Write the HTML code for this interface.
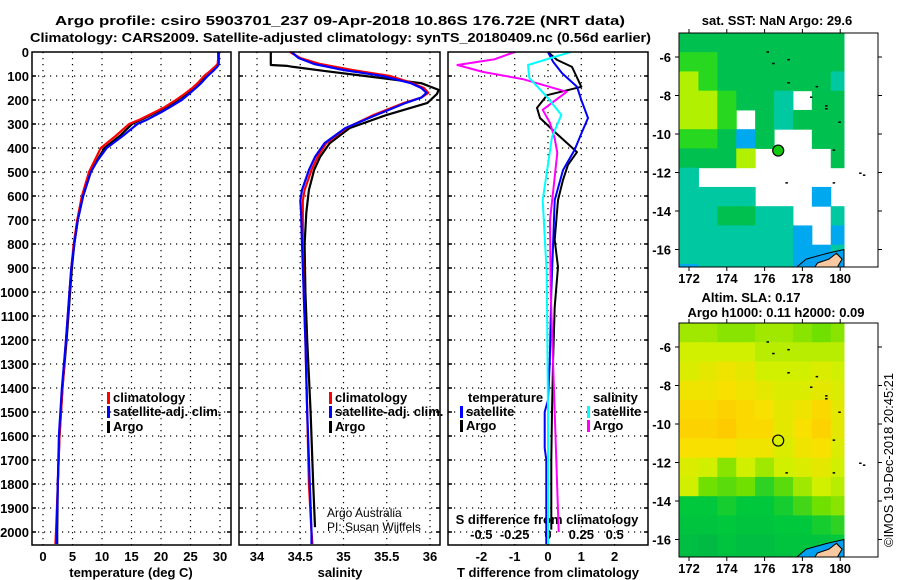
<!DOCTYPE html>
<html><head><meta charset="utf-8">
<style>
html,body{margin:0;padding:0;background:#fff;}
svg{display:block;font-family:"Liberation Sans",Arial,sans-serif;}
.b{font-weight:bold;font-size:13px;}
</style></head>
<body>
<svg id="fig" width="900" height="580" viewBox="0 0 900 580" xmlns="http://www.w3.org/2000/svg">
<rect x="0" y="0" width="900" height="580" fill="#fff"/>
<text x="55" y="25" class="b" font-size="14" textLength="570" lengthAdjust="spacingAndGlyphs">Argo profile: csiro 5903701_237 09-Apr-2018 10.86S 176.72E (NRT data)</text>
<text x="30" y="42" class="b" font-size="14" textLength="621" lengthAdjust="spacingAndGlyphs">Climatology: CARS2009. Satellite-adjusted climatology: synTS_20180409.nc (0.56d earlier)</text>
<text x="131" y="577" class="b" text-anchor="middle">temperature (deg C)</text>
<text x="340" y="577" class="b" text-anchor="middle">salinity</text>
<text x="548" y="577" class="b" text-anchor="middle">T difference from climatology</text>
<text x="547" y="524" class="b" text-anchor="middle">S difference from climatology</text>
<text x="327" y="517" font-size="12">Argo Australia</text>
<text x="327" y="531" font-size="12">PI: Susan Wijffels</text>
<text x="777" y="25" class="b" text-anchor="middle">sat. SST: NaN Argo: 29.6</text>
<text x="751" y="302" class="b" text-anchor="middle">Altim. SLA: 0.17</text>
<text x="776" y="317" class="b" text-anchor="middle">Argo h1000: 0.11 h2000: 0.09</text>
<text x="0" y="0" font-size="13" text-anchor="middle" transform="translate(893,460) rotate(-90)" textLength="174" lengthAdjust="spacingAndGlyphs">©IMOS 19-Dec-2018 20:45:21</text>
</svg>
<script>
// ---------- data ----------
const tDepth = [0,50,60,80,100,130,150,180,200,230,250,280,300,350,400,450,500,600,700,800,900,1000,1200,1400,1600,1800,2000,2050];
const argoT = [29.7,29.7,29.5,28.6,27.8,26.5,25.6,24,22.8,20.8,19.3,16.8,15.1,13,10.4,9.2,8.1,6.8,5.9,5.3,4.9,4.6,4.0,3.3,2.8,2.5,2.4,2.4];
const climT = [29.8,29.6,29.2,28.3,27.3,26.2,25.3,23.7,22.5,20.6,19,16.5,14.6,12.3,9.8,8.8,7.8,6.6,5.8,5.2,4.8,4.5,3.9,3.3,2.8,2.5,2.2,2.1];
const satT = [29.8,29.8,29.6,28.8,27.9,26.8,25.9,24.5,23.5,21.5,20.1,17.8,16,13.5,10.8,9.3,8.1,6.8,5.9,5.3,4.8,4.5,3.9,3.2,2.7,2.5,2.3,2.3];

const argoSDepth = [0,54,58,62,80,100,130,158,175,212,262,317,380,437,492,575,670,800,1000,1200,1500,1800,1980];
const argoS = [34.16,34.16,34.35,34.42,34.8,35.25,35.9,36.1,36.08,35.97,35.5,35.07,34.84,34.73,34.66,34.6,34.57,34.55,34.56,34.58,34.62,34.65,34.67];
const climSDepth = [0,25,50,75,100,130,150,170,190,212,262,317,380,437,492,575,620,670,800,1000,1200,1500,1800,2000,2050];
const climS = [34.38,34.5,34.73,35.1,35.54,35.8,35.93,35.98,35.9,35.7,35.35,35.03,34.8,34.7,34.63,34.55,34.53,34.53,34.53,34.54,34.56,34.58,34.6,34.63,34.64];
const satS = [34.4,34.48,34.66,35.0,35.45,35.78,35.9,35.96,35.9,35.72,35.38,35.02,34.78,34.67,34.6,34.52,34.5,34.51,34.52,34.54,34.56,34.58,34.61,34.63,34.63];

const argoTdDepth = [0,33,62,100,145,180,233,275,333,417,470,533,617,783,896,1062,1300,1500,1700,1990];
const argoTd = [0,0.27,0.72,0.85,1.0,-0.03,-0.33,-0.24,0.2,0.87,0.6,0.45,0.3,0.2,0.3,0.2,0.15,0.12,0.1,0.1];
const satTdDepth = [0,40,88,145,200,275,340,408,492,617,812,1000,1300,1450,1500,1650,1700,2050];
const satTd = [0,0.15,0.42,0.87,1.0,1.2,1.0,0.8,0.45,0.2,0.15,0.1,0.05,0.0,-0.1,-0.1,-0.05,-0.05];
const argoSdDepth = [0,30,54,83,113,166,241,296,360,420,575,700,1000,1500,2000];
const argoSd = [-0.25,-0.4,-0.68,-0.49,-0.19,0.14,-0.04,0.015,0.05,0.07,0.04,0.015,0.02,0.05,0.08];
const satSdDepth = [0,54,108,192,262,354,617,921,1500,2050];
const satSd = [0.17,-0.15,-0.14,0,0.1,0.03,-0.04,-0.01,0,0];

const depthTicks = [0,100,200,300,400,500,600,700,800,900,1000,1100,1200,1300,1400,1500,1600,1700,1800,1900,2000];
const tempTicks = [0,5,10,15,20,25,30];
const salTicks = [34,34.5,35,35.5,36];
const tdTicks = [-2,-1,0,1,2];
const sdTicks = [-0.5,-0.25,0,0.25,0.5];
const sdTickLabels = ['-0.5','-0.25','0','0.25','0.5'];

// SST map categories: 0 missing, 1 blue, 2 teal, 3 green, 4 bright green, 5 yellow-green
const sstGrid = [
 [3,3,3,3,3,3,3,3,3],
 [4,4,3,3,3,3,3,3,3],
 [5,4,3,3,3,3,3,3,2],
 [5,5,4,3,3,2,0,3,3],
 [5,5,4,0,3,2,3,3,3],
 [4,4,3,1,3,0,0,3,3],
 [3,3,3,5,0,0,0,0,3],
 [2,0,0,0,0,0,0,0,0],
 [2,2,2,2,0,0,0,1,0],
 [2,2,3,3,2,2,0,0,2],
 [2,2,2,2,2,2,1,0,1],
 [2,2,2,2,2,2,1,1,2],
 [1,2,2,2,2,2,1,1,2]
];
const sstColors = ['none','#00a8f0','#00c8a0','#00c050','#28d820','#b0f000'];
const slaGrid = [
 [.12,.12,.11,.11,.12,.12,.11,.10,.11],
 [.14,.14,.14,.14,.13,.13,.13,.13,.13],
 [.15,.16,.17,.16,.14,.14,.14,.15,.14],
 [.17,.17,.18,.17,.16,.15,.15,.16,.15],
 [.19,.19,.20,.19,.18,.16,.17,.19,.16],
 [.20,.20,.21,.19,.19,.16,.18,.20,.16],
 [.18,.18,.18,.17,.17,.15,.17,.18,.15],
 [.15,.14,.11,.14,.12,.14,.15,.16,.14],
 [.14,.10,.09,.10,.07,.09,.12,.14,.13],
 [.05,.05,.06,.05,.05,.06,.08,.10,.11],
 [.04,.04,.05,.04,.04,.05,.05,.06,.07],
 [.03,.02,.04,.03,.03,.04,.04,.04,.05],
 [.02,.02,.03,.03,.03,.03,.04,.04,.04]
];
const mapLonTicks = [172,174,176,178,180];
const mapLatTicks = [-6,-8,-10,-12,-14,-16];
const islandDots = [[176.1,-5.7],[176.4,-6.3],[177.2,-6.1],[177.2,-7.3],[178.7,-7.5],[178.4,-8.05],[179.2,-8.5],[179.2,-8.65],[179.9,-9.35],[179.6,-10.8],[177.1,-12.5],[179.6,-12.5],[181,-12],[181.2,-12.1]];
const argoLon = 176.72, argoLat = -10.86;

// ---------- helpers ----------
const NS='http://www.w3.org/2000/svg';
const svg=document.getElementById('fig');
function mk(tag,a,parent){const e=document.createElementNS(NS,tag);for(const k in a)e.setAttribute(k,a[k]);(parent||svg).appendChild(e);return e;}
const yD = d => 52 + d*0.24;
const xT1 = t => 43 + t*5.9;
const xS2 = s => 257 + (s-34)*86.5;
const xT3 = t => 548 + t*33.3;
const xS3 = s => 548 + s*133.3;
const TOP=52, BOT=545;
const panels=[{x0:32,x1:231,name:'temperature-panel'},{x0:239,x1:440,name:'salinity-panel'},{x0:448,x1:648,name:'difference-panel'}];

panels.forEach((p,pi)=>{
  depthTicks.forEach(d=>{
    if(d===0) return;
    const g=mk('line',{x1:p.x0,x2:p.x1,y1:yD(d),y2:yD(d),stroke:'#000','stroke-width':1.2,'stroke-dasharray':'1.2,4.8'});
    
    
    const t1=mk('line',{x1:p.x0,x2:p.x0+4,y1:yD(d),y2:yD(d),stroke:'#000','stroke-width':1.5});
    
    
    const t2=mk('line',{x1:p.x1-4,x2:p.x1,y1:yD(d),y2:yD(d),stroke:'#000','stroke-width':1.5});
    
    
  });
});
function vgrid(xs,x0){xs.forEach(x=>{
  const g=mk('line',{x1:x,x2:x,y1:TOP,y2:BOT,stroke:'#000','stroke-width':1.2,'stroke-dasharray':'1.2,4.8'});
  
  
});}
vgrid(tempTicks.map(xT1));
vgrid(salTicks.map(xS2));
vgrid(tdTicks.map(xT3));

depthTicks.forEach(d=>{
  const t=mk('text',{x:29,y:yD(d)+5,'text-anchor':'end',class:'b'});
  t.textContent=d;
  
  
});
function xlabels(ticks,fx,labels,y){ticks.forEach((v,i)=>{
  const t=mk('text',{x:fx(v),y:y,'text-anchor':'middle',class:'b'});
  t.textContent=labels?labels[i]:v;
  
  
});}
xlabels(tempTicks,xT1,null,561);
xlabels(salTicks,xS2,null,561);
xlabels(tdTicks,xT3,null,561);
xlabels(sdTicks,xS3,sdTickLabels,539);

function series(depths,vals,fx,color,w,name,x0,x1){
  const pts=depths.map((d,i)=>Math.max(x0,Math.min(x1,fx(vals[i]))).toFixed(1)+','+Math.min(BOT,yD(d)).toFixed(1)).join(' ');
  const l=mk('polyline',{points:pts,fill:'none',stroke:color,'stroke-width':w,'stroke-linejoin':'round'});
  
  
}
series(tDepth,argoT,xT1,'#000',2.2,'argo-temperature-line',32,231);
series(tDepth,climT,xT1,'#f00',2.2,'climatology-temperature-line',32,231);
series(tDepth,satT,xT1,'#00f',2.2,'satellite-temperature-line',32,231);
series(argoSDepth,argoS,xS2,'#000',2.2,'argo-salinity-line',239,440);
series(climSDepth,climS,xS2,'#f00',2.2,'climatology-salinity-line',239,440);
series(climSDepth,satS,xS2,'#00f',2.2,'satellite-salinity-line',239,440);
series(argoTdDepth,argoTd,xT3,'#000',2,'argo-t-diff-line',448,648);
series(satTdDepth,satTd,xT3,'#00f',2,'satellite-t-diff-line',448,648);
series(argoSdDepth,argoSd,xS3,'#f0f',2,'argo-s-diff-line',448,648);
series(satSdDepth,satSd,xS3,'#0ff',2,'satellite-s-diff-line',448,648);

panels.forEach(p=>{
  const r=mk('rect',{x:p.x0,y:TOP,width:p.x1-p.x0,height:BOT-TOP,fill:'none',stroke:'#000','stroke-width':1.5});
  
  
});

function legend(x,y,color,label,name){
  const m=mk('rect',{x:x,y:y-10,width:3,height:12,fill:color});
  
  
  const t=mk('text',{x:x+6,y:y,class:'b'});
  t.textContent=label;
  
  
}
legend(107,402,'#f00','climatology','legend-climatology');
legend(107,416,'#00f','satellite-adj. clim.','legend-satellite-adj');
legend(107,431,'#000','Argo','legend-argo');
legend(329,402,'#f00','climatology','legend-climatology');
legend(329,416,'#00f','satellite-adj. clim.','legend-satellite-adj');
legend(329,431,'#000','Argo','legend-argo');
(function(){const t=mk('text',{x:468,y:402,class:'b'});t.textContent='temperature';


const s=mk('text',{x:593,y:402,class:'b'});s.textContent='salinity';

})();
legend(460,416,'#00f','satellite','legend-t-satellite');
legend(460,430,'#000','Argo','legend-t-argo');
legend(587,416,'#0ff','satellite','legend-s-satellite');
legend(587,430,'#f0f','Argo','legend-s-argo');

// ---------- maps ----------
function slaColor(v){
  const st=[[0,[0,176,72]],[0.05,[0,200,60]],[0.1,[112,224,0]],[0.14,[208,240,0]],[0.18,[248,224,0]],[0.22,[255,196,0]]];
  if(v<=st[0][0])return 'rgb('+st[0][1]+')';
  for(let i=1;i<st.length;i++){if(v<=st[i][0]){const f=(v-st[i-1][0])/(st[i][0]-st[i-1][0]);const c=st[i-1][1].map((a,k)=>Math.round(a+(st[i][1][k]-a)*f));return 'rgb('+c+')';}}
  return 'rgb('+st[st.length-1][1]+')';
}
function drawMap(top,bottom,grid,colorFn,name,circleFill,labelY){
  const x0=679,x1=878;
  const lx=lon=>689+(lon-172)*18.9;
  const ly=lat=>top+24+(-6-lat)*19.25;
  const cid='clip-'+name;
  const defs=mk('defs',{});
  const cp=mk('clipPath',{id:cid},defs);
  mk('rect',{x:x0,y:top,width:x1-x0,height:bottom-top},cp);
  const g=mk('g',{'clip-path':'url(#'+cid+')'});
  
  
  grid.forEach((row,ri)=>row.forEach((v,ci)=>{
    const c=colorFn(v); if(c==='none')return;
    const lonA=171.5+ci, lonB=Math.min(180.2,lonA+1);
    const latA=-4.75-ri, latB=latA-1;
    const r=mk('rect',{x:lx(lonA),y:ly(latA),width:lx(lonB)-lx(lonA)+0.5,height:ly(latB)-ly(latA)+0.5,fill:c},g);
    
    
  }));
  const isl=mk('path',{d:'M'+lx(177.6)+','+ly(-17)+' L'+lx(178.2)+','+ly(-16.5)+' L'+lx(179.3)+','+ly(-16.2)+' L'+lx(180.2)+','+ly(-16)+' L'+lx(180.2)+','+ly(-17)+' Z',fill:'#00a0f0',stroke:'#000','stroke-width':1},g);
  
  
  const land=mk('path',{d:'M'+lx(178.6)+','+ly(-17)+' L'+lx(178.8)+','+ly(-16.7)+' L'+lx(179.4)+','+ly(-16.5)+' L'+lx(179.8)+','+ly(-16.2)+' L'+lx(180.1)+','+ly(-16.5)+' L'+lx(179.8)+','+ly(-17)+' Z',fill:'#f8c8a0',stroke:'#000','stroke-width':1},g);
  
  
  islandDots.forEach(p=>{
    const d=mk('rect',{x:lx(p[0]),y:ly(p[1]),width:2.5,height:1.5,fill:'#000'},g);
    
    
  });
  const fr=mk('rect',{x:x0,y:top,width:x1-x0,height:bottom-top,fill:'none',stroke:'#000','stroke-width':1});
  
  
  const ac=mk('circle',{cx:lx(argoLon),cy:ly(argoLat),r:5.5,fill:circleFill,stroke:'#000','stroke-width':1.2});
  
  
  mapLonTicks.forEach(v=>{
    const t=mk('text',{x:lx(v),y:labelY,'text-anchor':'middle',class:'b'});t.textContent=v;
    
    
    const a=mk('line',{x1:lx(v),x2:lx(v),y1:top-4,y2:top,stroke:'#000'});
    
    
    const b=mk('line',{x1:lx(v),x2:lx(v),y1:bottom,y2:bottom+4,stroke:'#000'});
    
    
  });
  mapLatTicks.forEach(v=>{
    const t=mk('text',{x:671,y:ly(v)+5,'text-anchor':'end',class:'b'});t.textContent=v;
    
    
    const a=mk('line',{x1:x1,x2:x1+4,y1:ly(v),y2:ly(v),stroke:'#000'});
    
    
    const b=mk('line',{x1:x0-4,x2:x0,y1:ly(v),y2:ly(v),stroke:'#000'});
    
    
  });
}
drawMap(33,267,sstGrid,v=>sstColors[v],'sst-map','#10c810',283);
drawMap(323,557,slaGrid,slaColor,'sla-map','#d8f000',573);
</script>
</body></html>
